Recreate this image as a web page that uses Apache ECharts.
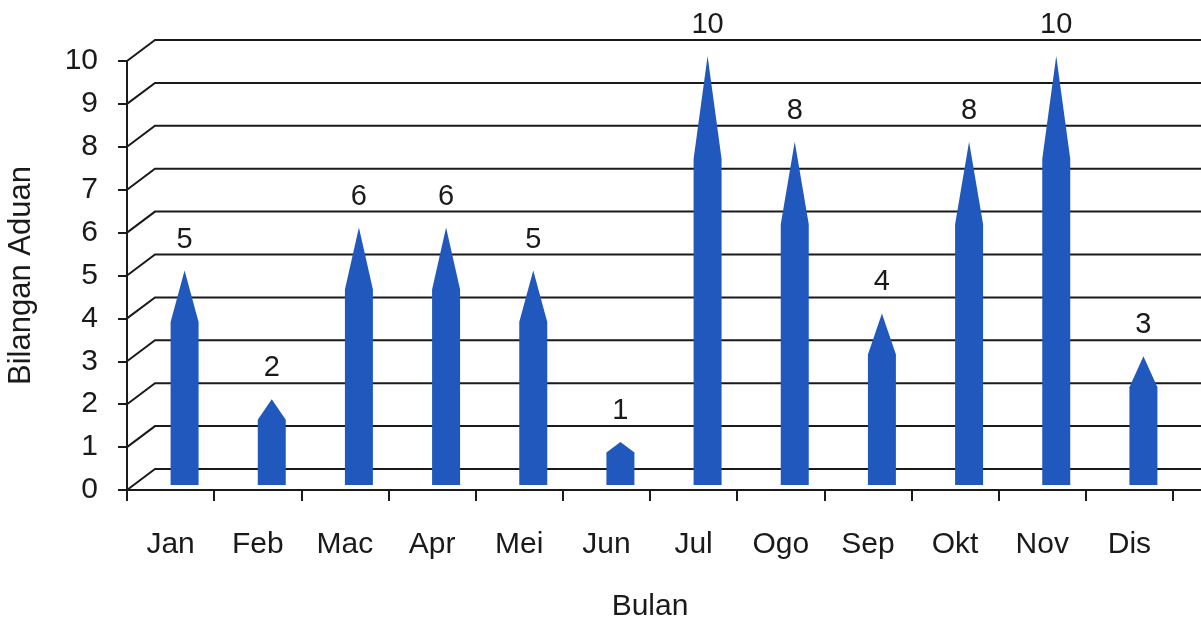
<!DOCTYPE html>
<html>
<head>
<meta charset="utf-8">
<script src="https://cdn.jsdelivr.net/npm/echarts@6/dist/echarts.min.js"></script>
<style>
  html, body { margin: 0; padding: 0; background: #fff; }
  #chart { width: 1201px; height: 625px; }
</style>
</head>
<body>
<div id="chart"></div>
<script>
  // data
  const months = ['Jan', 'Feb', 'Mac', 'Apr', 'Mei', 'Jun', 'Jul', 'Ogo', 'Sep', 'Okt', 'Nov', 'Dis']
  const complaints = [5, 2, 6, 6, 5, 1, 10, 8, 4, 8, 10, 3]
  const yTicks = [0, 1, 2, 3, 4, 5, 6, 7, 8, 9, 10]

  // fake 3D depth of the back wall
  const depthX = 28
  const depthY = 21
  const barColor = '#2158be'
  const lineColor = '#1a1a1a'
  const font = '"Liberation Sans", Arial, sans-serif'

  const chart = echarts.init(document.getElementById('chart'))

  const option = {
    animation: false,
    backgroundColor: '#fff',
    grid: { left: 127, right: 28, top: 61, bottom: 135, outerBoundsMode: 'none', containLabel: false },
    xAxis: {
      type: 'category',
      data: months,
      name: 'Bulan',
      nameLocation: 'middle',
      nameGap: 102,
      nameTextStyle: { fontSize: 30, color: lineColor, fontFamily: font },
      axisLine: { lineStyle: { color: lineColor, width: 2 } },
      axisTick: { show: true, length: 11, lineStyle: { color: lineColor, width: 2 } },
      axisLabel: { fontSize: 30, color: lineColor, fontFamily: font, margin: 40 }
    },
    yAxis: {
      type: 'value',
      min: 0,
      max: 10,
      interval: 1,
      name: 'Bilangan Aduan',
      nameLocation: 'middle',
      nameGap: 90,
      nameTextStyle: { fontSize: 31, color: lineColor, fontFamily: font },
      axisLine: { show: true, lineStyle: { color: lineColor, width: 2 } },
      axisTick: { show: true, length: 9, lineStyle: { color: lineColor, width: 2 } },
      axisLabel: { fontSize: 30, color: lineColor, fontFamily: font, margin: 29 },
      splitLine: { show: false }
    },
    series: [
      {
        // perspective grid: diagonal from each tick to the back wall, then across
        type: 'custom',
        silent: true,
        clip: false,
        z: 1,
        data: yTicks.map(v => [0, v]),
        renderItem(params, api) {
          const x0 = params.coordSys.x
          const y = api.coord([0, api.value(1)])[1]
          const w = api.getWidth()
          const children = [{
            type: 'polyline',
            shape: { points: [[x0, y], [x0 + depthX, y - depthY], [w, y - depthY]] },
            style: { stroke: lineColor, lineWidth: 2, fill: null }
          }]
          if (api.value(1) === 0) {
            children.push({
              type: 'line',
              shape: { x1: x0 + params.coordSys.width, y1: y, x2: w, y2: y },
              style: { stroke: lineColor, lineWidth: 2 }
            })
          }
          return { type: 'group', children }
        }
      },
      {
        // pointed bars
        type: 'custom',
        clip: false,
        z: 3,
        data: complaints.map((v, i) => [i, v]),
        renderItem(params, api) {
          const i = api.value(0)
          const v = api.value(1)
          const base = api.coord([i, 0])
          const top = api.coord([i, v])
          const cx = base[0] + 14
          const by = base[1] - 5
          const ty = top[1] - 5
          const sy = by - (by - ty) * 0.76
          const hw = 14
          return {
            type: 'group',
            children: [
              {
                type: 'polygon',
                shape: { points: [[cx - hw, by], [cx - hw, sy], [cx, ty], [cx + hw, sy], [cx + hw, by]] },
                style: { fill: barColor }
              },
              {
                type: 'text',
                style: {
                  text: String(v),
                  x: cx,
                  y: ty - 31,
                  align: 'center',
                  verticalAlign: 'middle',
                  fontSize: 29,
                  fontFamily: font,
                  fill: lineColor
                }
              }
            ]
          }
        }
      }
    ]
  }

  chart.setOption(option)
</script>
</body>
</html>
